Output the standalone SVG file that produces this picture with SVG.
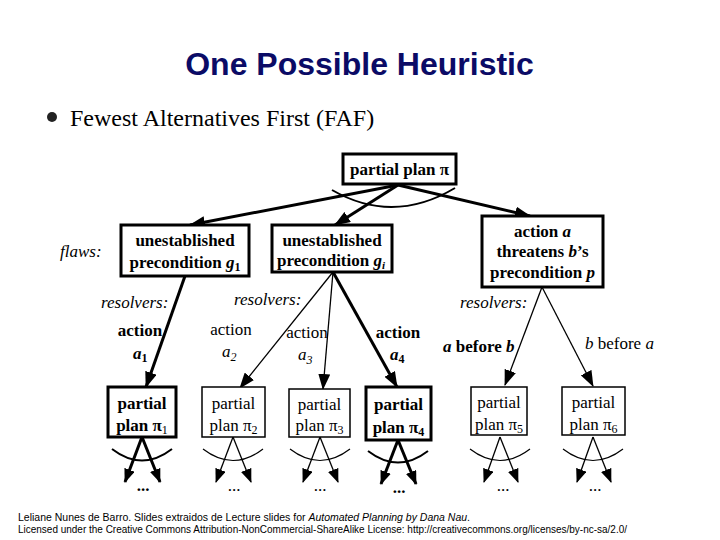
<svg xmlns="http://www.w3.org/2000/svg" width="720" height="540" viewBox="0 0 720 540">
<style>
.title{font-family:"Liberation Sans",Arial,sans-serif;font-weight:bold;font-size:32px;fill:#0b0b66}
.bul{font-family:"Liberation Serif","Times New Roman",serif;font-size:24px;fill:#000}
.t{font-family:"Liberation Serif","Times New Roman",serif;font-size:17px;fill:#000}
.b{font-weight:bold}
.i{font-style:italic}
.box{fill:#fff;stroke:#000;stroke-width:3}
.boxthin{fill:#fff;stroke:#000;stroke-width:1.5}
.thick{fill:none;stroke:#000;stroke-width:3}
.thin{fill:none;stroke:#000;stroke-width:1.3}
.arc{fill:none;stroke:#000;stroke-width:2}
.arcthin{fill:none;stroke:#000;stroke-width:1.2}
.foot{font-family:"Liberation Sans",Arial,sans-serif;font-size:10.5px;fill:#000}
</style>
<defs>
<marker id="ah" markerUnits="userSpaceOnUse" viewBox="0 0 16 12" markerWidth="16" markerHeight="12" refX="15" refY="6" orient="auto">
<path d="M0,0 L16,6 L0,12 z" fill="#000"/>
</marker>
<marker id="ahs" markerUnits="userSpaceOnUse" viewBox="0 0 14 11" markerWidth="14" markerHeight="11" refX="13" refY="5.5" orient="auto">
<path d="M0,0 L14,5.5 L0,11 z" fill="#000"/>
</marker>
</defs>
<rect width="720" height="540" fill="#fff"/>
<text class="title" x="359.5" y="75" text-anchor="middle">One Possible Heuristic</text>
<circle cx="52" cy="117" r="5" fill="#222"/>
<text class="bul" x="70" y="126">Fewest Alternatives First (FAF)</text>

<g id="connectors">
<line class="thick" x1="398" y1="185" x2="190" y2="225" marker-end="url(#ah)"/>
<line class="thick" x1="398" y1="185" x2="335" y2="225" marker-end="url(#ah)"/>
<line class="thick" x1="398" y1="185" x2="530" y2="216" marker-end="url(#ah)"/>
<path class="arc" d="M332,190 Q393,225 455,188"/>
<line class="thick" x1="185" y1="276" x2="146" y2="387" marker-end="url(#ah)"/>
<line class="thin" x1="333" y1="272" x2="240" y2="388" marker-end="url(#ah)"/>
<line class="thin" x1="333" y1="272" x2="323" y2="389" marker-end="url(#ah)"/>
<line class="thick" x1="333" y1="272" x2="397" y2="387" marker-end="url(#ah)"/>
<line class="thin" x1="542" y1="287" x2="505" y2="385" marker-end="url(#ah)"/>
<line class="thin" x1="542" y1="287" x2="593" y2="386" marker-end="url(#ah)"/>
<g>
<line class="thick" x1="142" y1="437" x2="125" y2="482" marker-end="url(#ahs)"/>
<line class="thick" x1="142" y1="437" x2="160" y2="482" marker-end="url(#ahs)"/>
<path class="arc" d="M112,449 Q142,472 172,449"/>
</g>
<g>
<line class="thin" x1="233" y1="437" x2="216" y2="482" marker-end="url(#ahs)"/>
<line class="thin" x1="233" y1="437" x2="251" y2="482" marker-end="url(#ahs)"/>
<path class="arcthin" d="M203,449 Q233,472 263,449"/>
</g>
<g>
<line class="thin" x1="320" y1="437" x2="303" y2="482" marker-end="url(#ahs)"/>
<line class="thin" x1="320" y1="437" x2="338" y2="482" marker-end="url(#ahs)"/>
<path class="arcthin" d="M290,449 Q320,472 350,449"/>
</g>
<g>
<line class="thick" x1="398" y1="440" x2="381" y2="484" marker-end="url(#ahs)"/>
<line class="thick" x1="398" y1="440" x2="416" y2="484" marker-end="url(#ahs)"/>
<path class="arc" d="M368,451 Q398,474 428,451"/>
</g>
<g>
<line class="thin" x1="500" y1="437" x2="484" y2="482" marker-end="url(#ahs)"/>
<line class="thin" x1="500" y1="437" x2="518" y2="482" marker-end="url(#ahs)"/>
<path class="arcthin" d="M470,449 Q500,472 530,449"/>
</g>
<g>
<line class="thin" x1="593" y1="437" x2="577" y2="482" marker-end="url(#ahs)"/>
<line class="thin" x1="593" y1="437" x2="611" y2="482" marker-end="url(#ahs)"/>
<path class="arcthin" d="M563,449 Q593,472 623,449"/>
</g>
</g>

<g id="root">
<rect class="box" x="343" y="154" width="113" height="30"/>
<text class="t b" x="399.5" y="175" text-anchor="middle">partial plan π</text>
</g>
<g id="flaws-label">
<text class="t i" x="60" y="257">flaws:</text>
</g>
<g id="g1">
<rect class="box" x="121" y="225" width="128" height="51"/>
<text class="t b" x="185" y="246" text-anchor="middle">unestablished</text>
<text class="t b" x="185" y="268" text-anchor="middle">precondition <tspan class="i">g</tspan><tspan font-size="12" dy="3">1</tspan></text>
</g>
<g id="gi">
<rect class="box" x="272" y="225" width="120" height="47"/>
<text class="t b" x="332" y="246" text-anchor="middle">unestablished</text>
<text class="t b" x="331" y="266" text-anchor="middle" font-size="16.5">precondition <tspan class="i">g</tspan><tspan class="i" font-size="11" dy="3">i</tspan></text>
</g>
<g id="threat">
<rect class="box" x="482" y="216" width="121" height="71"/>
<text class="t b" x="542.5" y="237" text-anchor="middle">action <tspan class="i">a</tspan></text>
<text class="t b" x="542.5" y="257" text-anchor="middle">threatens <tspan class="i">b</tspan>’s</text>
<text class="t b" x="542.5" y="278" text-anchor="middle">precondition <tspan class="i">p</tspan></text>
</g>

<g id="labels">
<text class="t i" x="101" y="308">resolvers:</text>
<text class="t i" x="234" y="305">resolvers:</text>
<text class="t i" x="460" y="308">resolvers:</text>
<text class="t b" x="140" y="336" text-anchor="middle">action</text>
<text class="t b i" x="133" y="359">a<tspan font-size="12" font-style="normal" dy="3">1</tspan></text>
<text class="t" x="231" y="335" text-anchor="middle">action</text>
<text class="t i" x="222" y="357">a<tspan font-size="12" dy="4">2</tspan></text>
<text class="t" x="307" y="338" text-anchor="middle">action</text>
<text class="t i" x="298" y="360">a<tspan font-size="12" dy="4">3</tspan></text>
<text class="t b" x="398" y="338" text-anchor="middle">action</text>
<text class="t b i" x="390" y="360">a<tspan font-size="12" font-style="normal" dy="3">4</tspan></text>
<text class="t b" x="443" y="352"><tspan class="i">a</tspan> before <tspan class="i">b</tspan></text>
<text class="t" x="585" y="349"><tspan class="i">b</tspan> before <tspan class="i">a</tspan></text>
</g>

<g id="pi1">
<rect class="box" x="108" y="387" width="68" height="50"/>
<text class="t b" x="142" y="409" text-anchor="middle">partial</text>
<text class="t b" x="142" y="431" text-anchor="middle">plan π<tspan font-size="12" font-weight="normal" dy="3">1</tspan></text>
<text class="t b" x="143" y="491" text-anchor="middle">...</text>
</g>
<g id="pi2">
<rect class="boxthin" x="202" y="387" width="63" height="50"/>
<text class="t" x="233.5" y="409" text-anchor="middle">partial</text>
<text class="t" x="233.5" y="431" text-anchor="middle">plan π<tspan font-size="12" dy="3">2</tspan></text>
<text class="t" x="234" y="491" text-anchor="middle">...</text>
</g>
<g id="pi3">
<rect class="boxthin" x="289" y="389" width="61" height="48"/>
<text class="t" x="319.5" y="410" text-anchor="middle">partial</text>
<text class="t" x="319.5" y="431" text-anchor="middle">plan π<tspan font-size="12" dy="3">3</tspan></text>
<text class="t" x="320" y="491" text-anchor="middle">...</text>
</g>
<g id="pi4">
<rect class="box" x="366" y="387" width="65" height="53"/>
<text class="t b" x="398.5" y="410" text-anchor="middle">partial</text>
<text class="t b" x="398.5" y="433" text-anchor="middle">plan π<tspan font-size="12" dy="3">4</tspan></text>
<text class="t b" x="399" y="493" text-anchor="middle">...</text>
</g>
<g id="pi5">
<rect class="boxthin" x="471" y="387" width="56" height="48"/>
<text class="t" x="499" y="408" text-anchor="middle">partial</text>
<text class="t" x="499" y="430" text-anchor="middle">plan π<tspan font-size="12" dy="3">5</tspan></text>
<text class="t" x="503" y="491" text-anchor="middle">...</text>
</g>
<g id="pi6">
<rect class="boxthin" x="562" y="387" width="63" height="48"/>
<text class="t" x="593.5" y="408" text-anchor="middle">partial</text>
<text class="t" x="593.5" y="430" text-anchor="middle">plan π<tspan font-size="12" dy="3">6</tspan></text>
<text class="t" x="595" y="491" text-anchor="middle">...</text>
</g>

<text class="foot" x="18" y="521" textLength="452" lengthAdjust="spacingAndGlyphs">Leliane Nunes de Barro. Slides extraidos de Lecture slides for <tspan font-style="italic">Automated Planning by Dana Nau</tspan>.</text>
<text class="foot" x="18" y="533" textLength="609" lengthAdjust="spacingAndGlyphs">Licensed under the Creative Commons Attribution-NonCommercial-ShareAlike License: http://creativecommons.org/licenses/by-nc-sa/2.0/</text>
</svg>
